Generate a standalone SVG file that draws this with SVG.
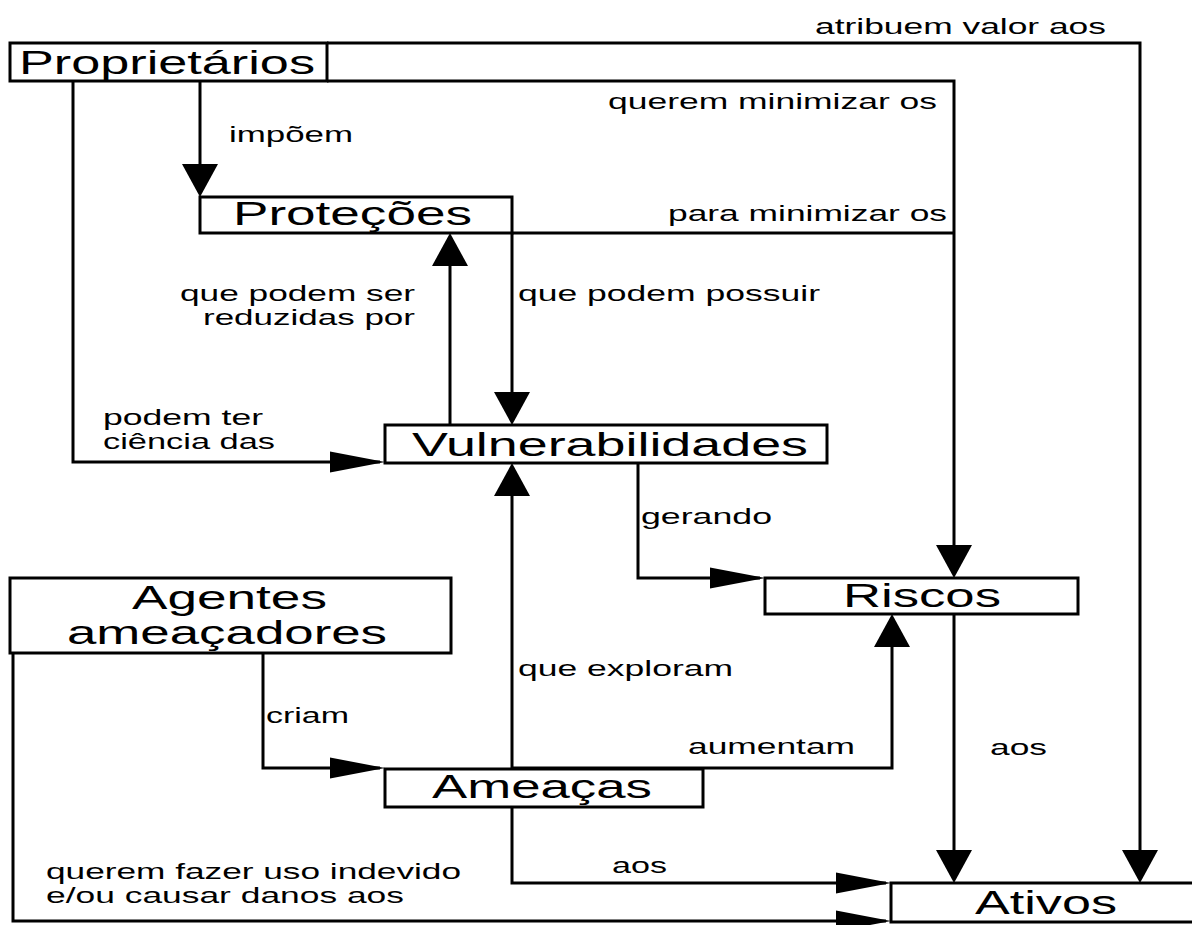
<svg xmlns="http://www.w3.org/2000/svg" width="1192" height="925" viewBox="0 0 1192 925">
<style>
.box{fill:#fff;stroke:#000;stroke-width:3}
.ln{fill:none;stroke:#000;stroke-width:3}
.nt{font-family:"Liberation Sans",Arial,sans-serif;font-size:34px;fill:#000}
.lb{font-family:"Liberation Sans",Arial,sans-serif;font-size:22px;fill:#000}
</style>
<defs>
<marker id="av" markerUnits="userSpaceOnUse" viewBox="0 0 33 36" markerWidth="33" markerHeight="36" refX="28" refY="18" orient="auto" overflow="visible"><path d="M0,0 L33,18 L0,36 Z" fill="#000"/></marker>
<marker id="ah" markerUnits="userSpaceOnUse" viewBox="0 0 55 21" markerWidth="55" markerHeight="21" refX="50" refY="10.5" orient="auto" overflow="visible"><path d="M0,0 L55,10.5 L0,21 Z" fill="#000"/></marker>
</defs>
<rect width="1192" height="925" fill="#fff"/>
<g id="connectors">
<path class="ln" d="M327,43 H1140 V878" marker-end="url(#av)"/>
<path class="ln" d="M327,81 H954 V573" marker-end="url(#av)"/>
<path class="ln" d="M512,233 H954"/>
<path class="ln" d="M200,81 V192" marker-end="url(#av)"/>
<path class="ln" d="M73,81 V462 H380" marker-end="url(#ah)"/>
<path class="ln" d="M450,425 V238" marker-end="url(#av)"/>
<path class="ln" d="M512,233 V420" marker-end="url(#av)"/>
<path class="ln" d="M512,769 V468" marker-end="url(#av)"/>
<path class="ln" d="M638,463 V578 H760" marker-end="url(#ah)"/>
<path class="ln" d="M512,768 H892 V619" marker-end="url(#av)"/>
<path class="ln" d="M954,614 V878" marker-end="url(#av)"/>
<path class="ln" d="M512,807 V883 H886" marker-end="url(#ah)"/>
<path class="ln" d="M13,653 V921 H886" marker-end="url(#ah)"/>
<path class="ln" d="M263,653 V768 H380" marker-end="url(#ah)"/>
<text class="lb" x="815" y="34" textLength="291" lengthAdjust="spacingAndGlyphs">atribuem valor aos</text>
<text class="lb" x="608" y="109" textLength="329" lengthAdjust="spacingAndGlyphs">querem minimizar os</text>
<text class="lb" x="668" y="221" textLength="279" lengthAdjust="spacingAndGlyphs">para minimizar os</text>
<text class="lb" x="229" y="142" textLength="124" lengthAdjust="spacingAndGlyphs">impõem</text>
<text class="lb" x="180" y="301" textLength="235" lengthAdjust="spacingAndGlyphs">que podem ser</text>
<text class="lb" x="203" y="325" textLength="212" lengthAdjust="spacingAndGlyphs">reduzidas por</text>
<text class="lb" x="518" y="301" textLength="302" lengthAdjust="spacingAndGlyphs">que podem possuir</text>
<text class="lb" x="103" y="425" textLength="160" lengthAdjust="spacingAndGlyphs">podem ter</text>
<text class="lb" x="103" y="449" textLength="172" lengthAdjust="spacingAndGlyphs">ciência das</text>
<text class="lb" x="641" y="524" textLength="131" lengthAdjust="spacingAndGlyphs">gerando</text>
<text class="lb" x="518" y="676" textLength="215" lengthAdjust="spacingAndGlyphs">que exploram</text>
<text class="lb" x="266" y="723" textLength="83" lengthAdjust="spacingAndGlyphs">criam</text>
<text class="lb" x="688" y="754" textLength="167" lengthAdjust="spacingAndGlyphs">aumentam</text>
<text class="lb" x="990" y="755" textLength="57" lengthAdjust="spacingAndGlyphs">aos</text>
<text class="lb" x="612" y="873" textLength="55" lengthAdjust="spacingAndGlyphs">aos</text>
<text class="lb" x="46" y="879" textLength="415" lengthAdjust="spacingAndGlyphs">querem fazer uso indevido</text>
<text class="lb" x="46" y="903" textLength="358" lengthAdjust="spacingAndGlyphs">e/ou causar danos aos</text>
</g>
<g id="proprietarios">
<rect class="box" x="10" y="43" width="317" height="38"/>
<text class="nt" x="19" y="74" textLength="296" lengthAdjust="spacingAndGlyphs">Proprietários</text>
</g>
<g id="protecoes">
<rect class="box" x="200" y="197" width="312" height="36"/>
<text class="nt" x="233" y="225" textLength="239" lengthAdjust="spacingAndGlyphs">Proteções</text>
</g>
<g id="vulnerabilidades">
<rect class="box" x="385" y="425" width="442" height="38"/>
<text class="nt" x="412" y="456" textLength="396" lengthAdjust="spacingAndGlyphs">Vulnerabilidades</text>
</g>
<g id="riscos">
<rect class="box" x="765" y="578" width="313" height="36"/>
<text class="nt" x="843" y="607" textLength="158" lengthAdjust="spacingAndGlyphs">Riscos</text>
</g>
<g id="agentes">
<rect class="box" x="10" y="578" width="441" height="75"/>
<text class="nt" x="132" y="609" textLength="195" lengthAdjust="spacingAndGlyphs">Agentes</text>
<text class="nt" x="67" y="644" textLength="320" lengthAdjust="spacingAndGlyphs">ameaçadores</text>
</g>
<g id="ameacas">
<rect class="box" x="385" y="769" width="318" height="38"/>
<text class="nt" x="432" y="798" textLength="220" lengthAdjust="spacingAndGlyphs">Ameaças</text>
</g>
<g id="ativos">
<rect class="box" x="891" y="883" width="320" height="39"/>
<text class="nt" x="975" y="914" textLength="142" lengthAdjust="spacingAndGlyphs">Ativos</text>
</g>
</svg>
